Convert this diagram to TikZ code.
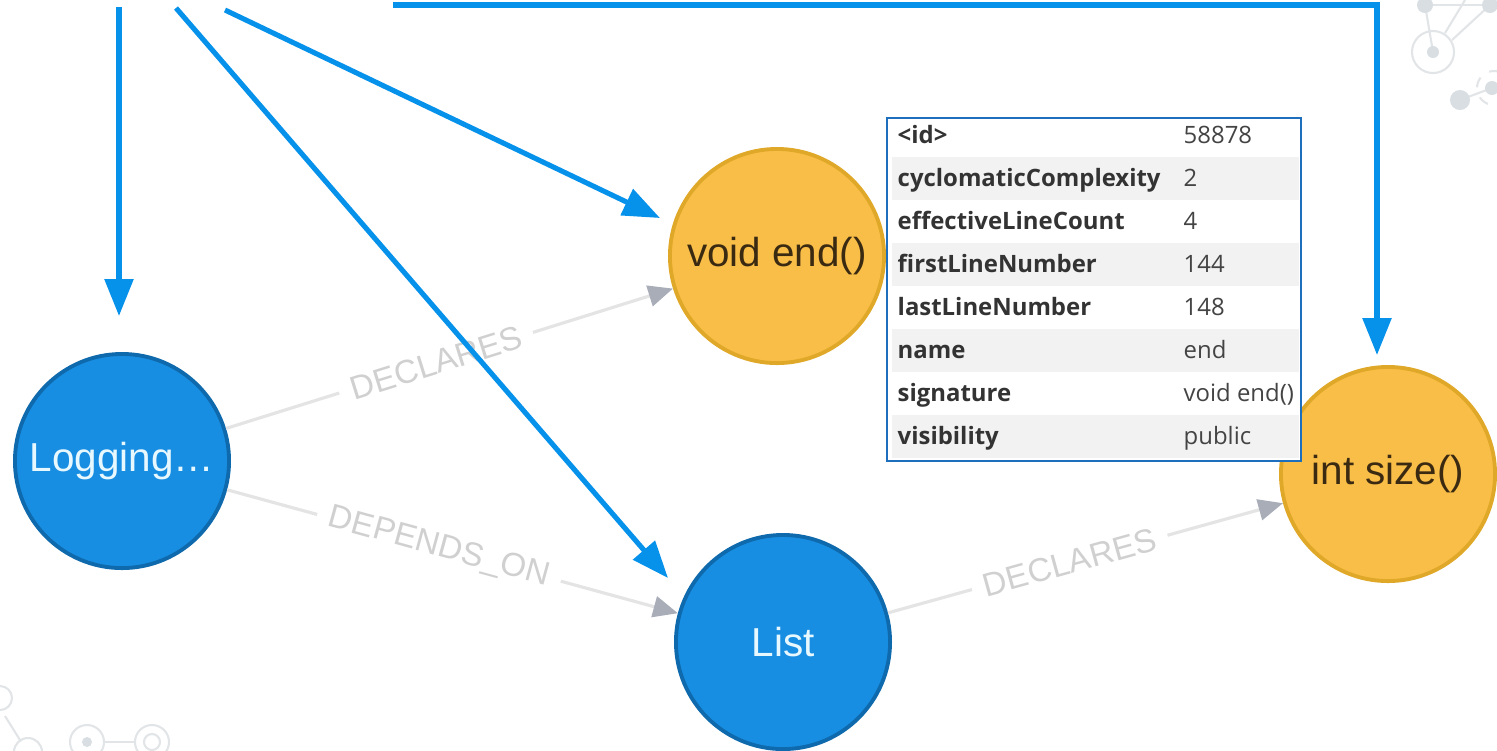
\documentclass[tikz,border=0pt]{standalone}
\usepackage{fontspec}
\setmainfont{Liberation Sans}
\newfontfamily\tablefont{Open Sans}
\usetikzlibrary{arrows.meta}

\definecolor{annoblue}{RGB}{6,145,234}
\definecolor{classfill}{RGB}{24,142,227}
\definecolor{classrim}{RGB}{14,106,172}
\definecolor{classtext}{RGB}{232,248,255}
\definecolor{methfill}{RGB}{249,190,72}
\definecolor{methrim}{RGB}{224,168,40}
\definecolor{methtext}{RGB}{59,42,18}
\definecolor{edgeline}{RGB}{228,228,228}
\definecolor{edgetip}{RGB}{168,173,184}
\definecolor{edgetext}{RGB}{208,208,208}
\definecolor{tablerim}{RGB}{30,110,190}
\definecolor{rowshade}{RGB}{242,242,242}
\definecolor{keytext}{RGB}{51,51,51}
\definecolor{valtext}{RGB}{68,68,68}
\definecolor{decofill}{RGB}{216,222,226}
\definecolor{decoline}{RGB}{226,229,231}

\tikzset{
  graphnode/.style={circle, line width=1.1pt, minimum size=2.14cm, inner sep=0pt,
    font=\fontsize{11.5}{13}\selectfont},
  classnode/.style={graphnode, draw=classrim, fill=classfill, text=classtext},
  methnode/.style={graphnode, draw=methrim, fill=methfill, text=methtext},
  reledge/.style={draw=edgeline, line width=0.9pt,
    -{Triangle[length=7pt,width=6pt,color=edgetip]}},
  rellabel/.style={sloped, fill=white, inner xsep=3.5pt, inner ysep=1pt,
    text=edgetext, font=\fontsize{9.4}{11}\selectfont},
  pointer/.style={draw=annoblue, line width=1.45pt,
    -{Triangle[length=10.5pt,width=8pt]}},
  propkey/.style={anchor=base west, inner sep=0pt, text=keytext,
    font=\tablefont\bfseries\fontsize{6.8}{8}\selectfont},
  propval/.style={anchor=base west, inner sep=0pt, text=valtext,
    font=\tablefont\fontsize{6.8}{8}\selectfont},
  deco/.style={draw=decoline, line width=0.6pt},
  decodot/.style={fill=decofill},
}

\begin{document}
\begin{tikzpicture}[x=0.01cm,y=-0.01cm]
\useasboundingbox (0,0) rectangle (1497,750);

% faint network ornaments in the corners
\draw[deco] (1425,5) -- (1490,5);
\draw[deco] (1425,5) -- (1433,52);
\draw[deco] (1465,0) -- (1445,33);
\draw[deco] (1490,5) -- (1452,40);
\draw[deco] (1460,100) -- (1492,88);
\draw[deco] (1433,52) circle [radius=0.21cm];
\draw[deco, dashed] (1494,88) circle [radius=0.17cm];
\fill[decodot] (1425,5) circle [radius=0.08cm];
\fill[decodot] (1490,5) circle [radius=0.08cm];
\fill[decodot] (1433,52) circle [radius=0.06cm];
\fill[decodot] (1460,100) circle [radius=0.10cm];
\fill[decodot] (1492,88) circle [radius=0.07cm];

\draw[deco] (0,698) circle [radius=0.12cm];
\draw[deco] (5,716) -- (20,740);
\draw[deco] (28,752) circle [radius=0.14cm];
\draw[deco] (87,742) circle [radius=0.17cm];
\fill[decodot] (87,742) circle [radius=0.05cm];
\draw[deco] (104,742) -- (135,742);
\draw[deco] (152,742) circle [radius=0.17cm];
\draw[deco] (152,742) circle [radius=0.08cm];

% graph nodes
\node[classnode] (log) at (122,461) {Logging…};
\node[methnode] (voidend) at (777,256) {void end()};
\node[classnode] (list) at (783,642) {List};
\node[methnode] (intsize) at (1388,474) {int size()};

% relationships
\draw[reledge] (log) -- node[rellabel, pos=0.47] {DECLARES} (voidend);
\draw[reledge] (log) -- node[rellabel, pos=0.47] {DEPENDS\_ON} (list);
\draw[reledge] (list) -- node[rellabel, pos=0.46] {DECLARES} (intsize);

% pointer arrows
\coordinate (p1s) at (119,7);
\coordinate (p1e) at (119,316);
\coordinate (p2s) at (176,8);
\coordinate (p2e) at (668,578);
\coordinate (p3s) at (225,10);
\coordinate (p3e) at (660,218);
\coordinate (p4s) at (393,5);
\coordinate (p4e) at (1377,355);
\draw[pointer] (p1s) -- (p1e);
\draw[pointer] (p2s) -- (p2e);
\draw[pointer] (p3s) -- (p3e);
\draw[pointer] (p4s) -| (p4e);

% property panel
\node[draw=tablerim, line width=0.6pt, fill=white, minimum width=4.14cm,
  minimum height=3.43cm, inner sep=0pt] (props) at (1094,289.5) {};
\foreach \top in {157,243,329,415}
  \fill[rowshade] (892,\top) rectangle (1299,\top+43);

\node[propkey] (k1) at (897,143) {<id>};
\node[propkey] (k2) at (897,186) {cyclomaticComplexity};
\node[propkey] (k3) at (897,229) {effectiveLineCount};
\node[propkey] (k4) at (897,272) {firstLineNumber};
\node[propkey] (k5) at (897,315) {lastLineNumber};
\node[propkey] (k6) at (897,358) {name};
\node[propkey] (k7) at (897,401) {signature};
\node[propkey] (k8) at (897,444) {visibility};

\node[propval] (v1) at (1183,143) {58878};
\node[propval] (v2) at (1183,186) {2};
\node[propval] (v3) at (1183,229) {4};
\node[propval] (v4) at (1183,272) {144};
\node[propval] (v5) at (1183,315) {148};
\node[propval] (v6) at (1183,358) {end};
\node[propval] (v7) at (1183,401) {void end()};
\node[propval] (v8) at (1183,444) {public};
\end{tikzpicture}
\end{document}
